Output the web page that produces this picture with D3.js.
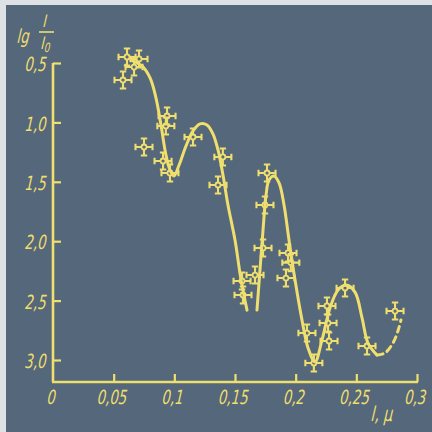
<!DOCTYPE html>
<html>
<head>
<meta charset="utf-8">
<script src="https://cdn.jsdelivr.net/npm/d3@7"></script>
<style>
  html, body { margin: 0; padding: 0; background: #55677a; }
  svg { display: block; }
  text { font-family: "DejaVu Sans", sans-serif; font-style: italic; fill: #efdf6e; }
</style>
</head>
<body>
<script>
// Measured points: wavelength (μ) and lg(I/I0)
const pointL = [0.0577, 0.061, 0.0709, 0.0668, 0.094, 0.093, 0.075, 0.0907, 0.0964, 0.1154,
                0.140, 0.136, 0.1764, 0.1747, 0.1731, 0.1937, 0.196, 0.192, 0.1558, 0.1566,
                0.1665, 0.2093, 0.215, 0.2258, 0.2267, 0.2275, 0.2407, 0.2588, 0.2819];
const pointLg = [0.643, 0.449, 0.466, 0.534, 0.946, 1.030, 1.207, 1.325, 1.426, 1.123,
                 1.291, 1.527, 1.426, 1.695, 2.057, 2.099, 2.180, 2.310, 2.335, 2.453,
                 2.285, 2.773, 3.025, 2.545, 2.689, 2.840, 2.394, 2.882, 2.588];

// First solid branch of the fitted curve
const branch1L = [0.0643, 0.0733, 0.080, 0.0849, 0.089, 0.0931, 0.0964, 0.0997, 0.1039, 0.1096,
                  0.1154, 0.1212, 0.1269, 0.1319, 0.136, 0.1401, 0.1442, 0.150, 0.155, 0.1599];
const branch1Lg = [0.475, 0.525, 0.626, 0.795, 1.022, 1.274, 1.400, 1.451, 1.359, 1.199,
                   1.072, 1.013, 1.022, 1.098, 1.232, 1.443, 1.695, 1.990, 2.327, 2.580];

// Second solid branch
const branch2L = [0.1681, 0.1706, 0.1731, 0.1756, 0.178, 0.1821, 0.1863, 0.1904, 0.1945, 0.1995,
                  0.2052, 0.2102, 0.2159, 0.2217, 0.2283, 0.2349, 0.2415, 0.2489, 0.2547, 0.2596, 0.267];
const branch2Lg = [2.580, 2.242, 1.906, 1.611, 1.485, 1.451, 1.510, 1.695, 1.990, 2.327,
                   2.663, 2.899, 3.017, 2.832, 2.562, 2.411, 2.369, 2.428, 2.646, 2.857, 2.958];

// Dashed extrapolated tail
const tailL = [0.267, 0.2736, 0.2802, 0.2843, 0.2868];
const tailLg = [2.958, 2.941, 2.857, 2.756, 2.663];

// Axis ticks
const xTicks = [0, 0.05, 0.1, 0.15, 0.2, 0.25, 0.3];
const xTickLabels = ["0", "0,05", "0,1", "0,15", "0,2", "0,25", "0,3"];
const yTicks = [0.5, 1.0, 1.5, 2.0, 2.5, 3.0];
const yTickLabels = ["0,5", "1,0", "1,5", "2,0", "2,5", "3,0"];

const W = 432, H = 432;
const ink = "#efdf6e";
// narrow, slanted lettering
const sx = 0.74, sy = 1.08, slant = -8;

const svg = d3.select("body").append("svg").attr("width", W).attr("height", H);
svg.append("rect").attr("width", W).attr("height", H).attr("fill", "#55677a");
// light paper edge on the left and top
svg.append("rect").attr("x", 0).attr("y", 0).attr("width", 6).attr("height", H).attr("fill", "#dfe2e5");
svg.append("rect").attr("x", 0).attr("y", 0).attr("width", W).attr("height", 5).attr("fill", "#dfe2e5");

const x = d3.scaleLinear().domain([0, 0.3]).range([53, 417]);
const y = d3.scaleLinear().domain([0.5, 3.0]).range([63, 360]);
const axisY = 382;

// Axis lines
svg.append("line").attr("x1", x(0)).attr("x2", x(0)).attr("y1", y(0.5)).attr("y2", axisY)
  .attr("stroke", ink).attr("stroke-width", 2.6);
svg.append("line").attr("x1", x(0) - 1).attr("x2", x(0.3) + 1).attr("y1", axisY).attr("y2", axisY)
  .attr("stroke", ink).attr("stroke-width", 2.6);

// Y axis: ticks point into the plot, labels on the left
const gy = svg.append("g").attr("transform", `translate(${x(0)},0)`)
  .call(d3.axisLeft(y).tickValues(yTicks).tickSizeInner(-8).tickSizeOuter(0).tickPadding(6)
    .tickFormat((d, i) => yTickLabels[i]));
gy.select(".domain").remove();
gy.selectAll(".tick line").attr("stroke", ink).attr("stroke-width", 2.2);
gy.selectAll(".tick text").attr("font-size", 18).attr("dy", "0.40em")
  .attr("font-family", null).attr("fill", ink)
  .attr("x", -6 / sx)
  .attr("transform", `scale(${sx},${sy}) skewX(${slant})`);

// X axis: ticks point up, labels below
const gx = svg.append("g").attr("transform", `translate(0,${axisY})`)
  .call(d3.axisBottom(x).tickValues(xTicks).tickSizeInner(-8).tickSizeOuter(0).tickPadding(8)
    .tickFormat((d, i) => xTickLabels[i]));
gx.select(".domain").remove();
gx.selectAll(".tick line").attr("stroke", ink).attr("stroke-width", 2.2)
  .attr("opacity", d => d === 0 ? 0 : 1);
gx.selectAll(".tick text").attr("font-size", 18).attr("font-family", null).attr("fill", ink)
  .attr("transform", `scale(${sx},${sy}) skewX(${slant})`);

// Axis titles
function narrow(sel, tx, ty) {
  return sel.attr("transform", `translate(${tx},${ty}) scale(${sx},${sy}) skewX(${slant})`);
}
const yt = svg.append("g").attr("fill", ink);
narrow(yt.append("text"), 17, 43).attr("font-size", 18).text("lg");
narrow(yt.append("text"), 43, 27).attr("font-size", 16).text("I");
yt.append("line").attr("x1", 39).attr("x2", 54).attr("y1", 32).attr("y2", 32)
  .attr("stroke", ink).attr("stroke-width", 1.6);
const i0 = narrow(yt.append("text"), 41, 49).attr("font-size", 16);
i0.append("tspan").text("I");
i0.append("tspan").attr("font-size", 12).attr("dy", 3).text("0");

narrow(svg.append("text"), 371, 421).attr("font-size", 19).text("l, μ");

// Fitted curves
const line = d3.line().x(d => x(d[0])).y(d => y(d[1])).curve(d3.curveCatmullRom.alpha(0.5));
const branches = [
  [branch1L, branch1Lg, null],
  [branch2L, branch2Lg, null],
  [tailL, tailLg, "6 5"]
];
branches.forEach(([ls, gs, dash]) => {
  svg.append("path").datum(ls.map((l, i) => [l, gs[i]]))
    .attr("d", line).attr("fill", "none").attr("stroke", ink)
    .attr("stroke-width", 3).attr("stroke-linecap", "round")
    .attr("stroke-dasharray", dash);
});

// Measured points with error bars
const arm = 8.5, cap = 3.2, r = 2.5;
const pts = svg.append("g").attr("stroke", ink).attr("fill", "none");
pointL.forEach((l, i) => {
  const cx = x(l), cy = y(pointLg[i]);
  const g = pts.append("g").attr("transform", `translate(${cx},${cy})`);
  g.append("circle").attr("r", r).attr("stroke-width", 1.8);
  const path = d3.path();
  // arms
  path.moveTo(-arm, 0); path.lineTo(-r, 0);
  path.moveTo(r, 0); path.lineTo(arm, 0);
  path.moveTo(0, -arm); path.lineTo(0, -r);
  path.moveTo(0, r); path.lineTo(0, arm);
  // caps
  path.moveTo(-arm, -cap); path.lineTo(-arm, cap);
  path.moveTo(arm, -cap); path.lineTo(arm, cap);
  path.moveTo(-cap, -arm); path.lineTo(cap, -arm);
  path.moveTo(-cap, arm); path.lineTo(cap, arm);
  g.append("path").attr("d", path.toString()).attr("stroke-width", 2.1);
});
</script>
</body>
</html>
